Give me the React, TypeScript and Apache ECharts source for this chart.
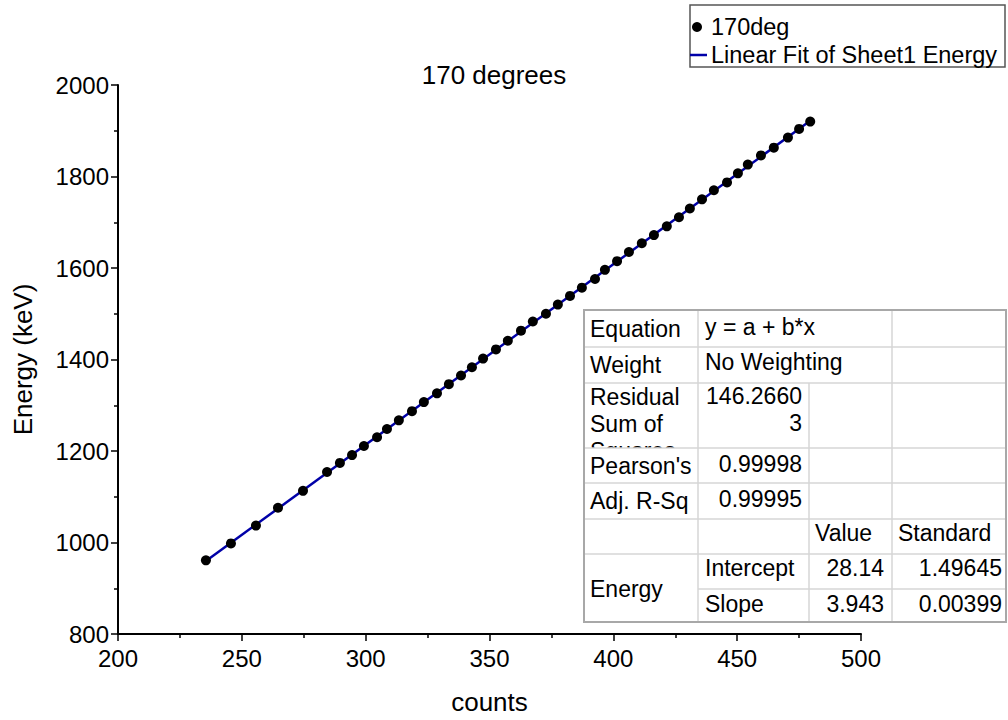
import React, { useEffect, useRef } from "react";
import * as echarts from "echarts";

const counts = [235.5, 245.6, 255.7, 264.6, 274.7, 284.4, 289.6, 294.5, 299.3, 304.6, 308.6, 313.4, 318.7, 323.5, 328.8, 333.6, 338.5, 342.9, 347.4, 352.6, 357.4, 362.7, 367.5, 372.8, 377.6, 382.5, 387.3, 392.6, 396.6, 401.5, 406.3, 411.5, 416.4, 421.6, 426.5, 430.9, 435.8, 440.6, 445.9, 450.3, 454.3, 459.6, 464.8, 470.5, 475.0, 479.5];
const energy = [961, 998, 1037, 1076, 1113, 1154, 1174, 1191, 1211, 1230, 1248, 1267, 1287, 1307, 1326, 1346, 1365, 1383, 1402, 1422, 1441, 1463, 1483, 1500, 1520, 1539, 1557, 1576, 1596, 1615, 1635, 1654, 1672, 1691, 1711, 1730, 1750, 1770, 1787, 1807, 1826, 1846, 1863, 1885, 1904, 1920];

const seriesNames = ["170deg", "Linear Fit of Sheet1 Energy"];
const titleText = "170 degrees";
const xName = "counts";
const yName = "Energy (keV)";

// fit statistics table (text content)
const tableRows = {
  equation: ["Equation", "y = a + b*x"],
  weight: ["Weight", "No Weighting"],
  residual: ["Residual", "Sum of", "Squares", "146.2660", "3"],
  pearson: ["Pearson's", "0.99998"],
  adjR: ["Adj. R-Sq", "0.99995"],
  header: ["Value", "Standard"],
  energyLabel: "Energy",
  intercept: ["Intercept", "28.14", "1.49645"],
  slope: ["Slope", "3.943", "0.00399"],
};

function leastSquares(xs: number[], ys: number[]) {
  const n = xs.length;
  let sx = 0, sy = 0, sxx = 0, sxy = 0;
  for (let i = 0; i < n; i++) {
    sx += xs[i]; sy += ys[i]; sxx += xs[i] * xs[i]; sxy += xs[i] * ys[i];
  }
  const b = (n * sxy - sx * sy) / (n * sxx - sx * sx);
  const a = (sy - b * sx) / n;
  return { a, b };
}

export default function App() {
  const ref = useRef<HTMLDivElement>(null);
  useEffect(() => {
    document.body.style.margin = "0";
    const chart = echarts.init(ref.current!, undefined, { renderer: "svg" });
    const { a, b } = leastSquares(counts, energy);
    const x0 = Math.min(...counts);
    const x1 = Math.max(...counts);
    const fitLine = [[x0, a + b * x0], [x1, a + b * x1]];
    const F = '"Liberation Sans", Arial, sans-serif';
    const tf = `23px ${F}`;

    const T = (text: string, x: number, y: number, align = "left", font = tf) => ({
      type: "text", x, y, z: 110,
      style: { text, font, fill: "#000", align, verticalAlign: "middle" },
    });
    const L = (x1: number, y1: number, x2: number, y2: number, color = "#d6d6d6", w = 1.5) => ({
      type: "line", z: 105,
      shape: { x1, y1, x2, y2 },
      style: { stroke: color, lineWidth: w },
    });

    const tl = 584, tr = 1006, tt = 310, tb = 622;
    const c1 = 698, c2 = 809, c3 = 892;
    const r = [310, 347, 383, 448, 483, 519, 554, 589, 622];

    const table: any[] = [
      { type: "rect", z: 100, shape: { x: tl, y: tt, width: tr - tl, height: tb - tt }, style: { fill: "#fff", stroke: "none" } },
      T(tableRows.residual[2], 590, 451),
      { type: "rect", z: 111, shape: { x: tl + 1, y: r[3], width: c1 - tl - 2, height: r[4] - r[3] }, style: { fill: "#fff" } },
      // horizontal lines
      { ...L(tl, r[1], tr, r[1]), z: 112 },
      { ...L(tl, r[2], tr, r[2]), z: 112 },
      { ...L(tl, r[3], tr, r[3]), z: 112 },
      { ...L(tl, r[4], tr, r[4]), z: 112 },
      { ...L(tl, r[5], tr, r[5]), z: 112 },
      { ...L(tl, r[6], tr, r[6]), z: 112 },
      { ...L(c1, r[7], tr, r[7]), z: 112 },
      // vertical lines
      { ...L(c1, tt, c1, tb), z: 112 },
      { ...L(c2, r[2], c2, tb), z: 112 },
      { ...L(c3, tt, c3, tb), z: 112 },
      // outer border
      { type: "rect", z: 113, shape: { x: tl, y: tt, width: tr - tl, height: tb - tt }, style: { fill: "none", stroke: "#a8a8a8", lineWidth: 2 } },
      { ...T(tableRows.equation[0], 590, 329), z: 114 },
      { ...T(tableRows.equation[1], 705, 327), z: 114 },
      { ...T(tableRows.weight[0], 590, 365), z: 114 },
      { ...T(tableRows.weight[1], 705, 362), z: 114 },
      { ...T(tableRows.residual[0], 590, 397), z: 114 },
      { ...T(tableRows.residual[1], 590, 424), z: 114 },
      { ...T(tableRows.residual[3], 802, 396, "right"), z: 114 },
      { ...T(tableRows.residual[4], 802, 423, "right"), z: 114 },
      { ...T(tableRows.pearson[0], 590, 466), z: 114 },
      { ...T(tableRows.pearson[1], 802, 464, "right"), z: 114 },
      { ...T(tableRows.adjR[0], 590, 501), z: 114 },
      { ...T(tableRows.adjR[1], 802, 499, "right"), z: 114 },
      { ...T(tableRows.header[0], 815, 533), z: 114 },
      { ...T(tableRows.header[1], 898, 533), z: 114 },
      { ...T(tableRows.energyLabel, 590, 589), z: 114 },
      { ...T(tableRows.intercept[0], 705, 568), z: 114 },
      { ...T(tableRows.intercept[1], 884, 568, "right"), z: 114 },
      { ...T(tableRows.intercept[2], 1002, 568, "right"), z: 114 },
      { ...T(tableRows.slope[0], 705, 604), z: 114 },
      { ...T(tableRows.slope[1], 884, 604, "right"), z: 114 },
      { ...T(tableRows.slope[2], 1002, 604, "right"), z: 114 },
    ];

    const lf = `23.5px ${F}`;
    const legend: any[] = [
      { type: "rect", z: 120, shape: { x: 690, y: 5, width: 315, height: 62 }, style: { fill: "#fff", stroke: "#555", lineWidth: 1.5 } },
      { type: "circle", z: 121, shape: { cx: 697, cy: 27, r: 5 }, style: { fill: "#000" } },
      { type: "line", z: 121, shape: { x1: 690, y1: 55, x2: 707, y2: 55 }, style: { stroke: "#0000a8", lineWidth: 2.5 } },
      { type: "text", z: 121, x: 711, y: 27, style: { text: seriesNames[0], font: lf, fill: "#000", verticalAlign: "middle" } },
      { type: "text", z: 121, x: 711, y: 55, style: { text: seriesNames[1], font: lf, fill: "#000", verticalAlign: "middle" } },
    ];

    const axisCommon = {
      axisLine: { show: true, onZero: false, lineStyle: { color: "#000", width: 2 } },
      axisTick: { show: true, inside: false, length: 7, lineStyle: { color: "#000", width: 1.5 } },
      minorTick: { show: true, splitNumber: 2, length: 4, lineStyle: { color: "#000", width: 1.5 } },
      splitLine: { show: false },
      minorSplitLine: { show: false },
      axisLabel: { color: "#000", fontSize: 24, fontFamily: F, formatter: (v: number) => String(v) },
      nameLocation: "middle",
      nameTextStyle: { color: "#000", fontSize: 26, fontFamily: F },
    };

    chart.setOption({
      animation: false,
      backgroundColor: "#fff",
      title: {
        text: titleText, left: 489, top: 57, textAlign: "center",
        textStyle: { color: "#000", fontSize: 26, fontWeight: "normal", fontFamily: F },
      },
      grid: { left: 118, right: 147, top: 85, bottom: 83, containLabel: false },
      xAxis: {
        type: "value", min: 200, max: 500, interval: 50, name: xName, nameGap: 55,
        ...axisCommon,
        axisLabel: { ...axisCommon.axisLabel, margin: 12 },
      },
      yAxis: {
        type: "value", min: 800, max: 2000, interval: 200, name: yName, nameGap: 82,
        ...axisCommon,
        axisLabel: { ...axisCommon.axisLabel, margin: 9 },
      },
      series: [
        {
          name: seriesNames[1], type: "line", data: fitLine, symbol: "none",
          lineStyle: { color: "#0000a8", width: 2.5 }, z: 2,
        },
        {
          name: seriesNames[0], type: "scatter", data: counts.map((c, i) => [c, energy[i]]),
          symbol: "circle", symbolSize: 10, itemStyle: { color: "#000", opacity: 1 }, z: 3,
        },
      ],
      graphic: [...table, ...legend],
    });
    return () => chart.dispose();
  }, []);
  return <div ref={ref} style={{ width: 1008, height: 720 }} />;
}
